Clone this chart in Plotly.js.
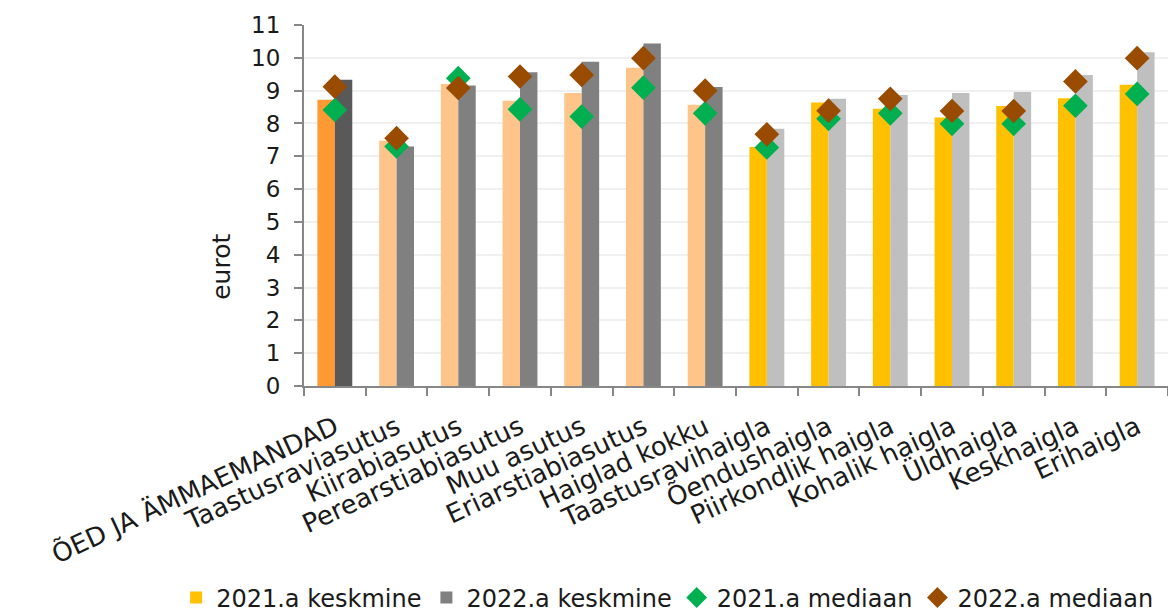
<!DOCTYPE html>
<html>
<head>
<meta charset="utf-8">
<script src="https://cdn.plot.ly/plotly-3.0.1.min.js"></script>
<style>html,body{margin:0;padding:0;background:#fff;}#chart{width:1168px;height:616px;}</style>
</head>
<body>
<div id="chart"></div>
<script>
const categories = ["ÕED JA ÄMMAEMANDAD","Taastusraviasutus","Kiirabiasutus","Perearstiabiasutus","Muu asutus","Eriarstiabiasutus","Haiglad kokku","Taastusravihaigla","Õendushaigla","Piirkondlik haigla","Kohalik haigla","Üldhaigla","Keskhaigla","Erihaigla"];
const mean2021 = [8.72, 7.47, 9.20, 8.69, 8.93, 9.70, 8.57, 7.28, 8.64, 8.45, 8.18, 8.53, 8.77, 9.18];
const mean2022 = [9.33, 7.30, 9.16, 9.56, 9.88, 10.44, 9.11, 7.84, 8.75, 8.87, 8.93, 8.96, 9.48, 10.17];
const median2021 = [8.41, 7.30, 9.38, 8.43, 8.21, 9.09, 8.31, 7.27, 8.14, 8.31, 7.99, 7.99, 8.54, 8.90];
const median2022 = [9.12, 7.55, 9.08, 9.43, 9.48, 9.99, 9.00, 7.67, 8.39, 8.75, 8.38, 8.38, 9.28, 9.99];
const seriesNames = ["2021.a keskmine","2022.a keskmine","2021.a mediaan","2022.a mediaan"];

// styles
const FONT = "DejaVu Sans";
const TXT = "#1a1a1a";
const AX = "#878787";
const colors2021 = categories.map((c, i) => i === 0 ? "#FF9933" : (i <= 6 ? "#FFC48A" : "#FFC000"));
const colors2022 = categories.map((c, i) => i === 0 ? "#595959" : (i <= 6 ? "#808080" : "#BFBFBF"));

const traces = [
  {type:"bar", name:seriesNames[0], x:[categories[0]], y:[null], offsetgroup:"a", marker:{color:"#FFC000"}, hoverinfo:"skip"},
  {type:"bar", name:seriesNames[1], x:[categories[0]], y:[null], offsetgroup:"b", marker:{color:"#808080"}, hoverinfo:"skip"},
  {type:"bar", name:seriesNames[0], x:categories, y:mean2021, offsetgroup:"a", marker:{color:colors2021}, showlegend:false},
  {type:"bar", name:seriesNames[1], x:categories, y:mean2022, offsetgroup:"b", marker:{color:colors2022}, showlegend:false},
  {type:"scatter", mode:"markers", name:seriesNames[2], x:categories, y:median2021, marker:{symbol:"diamond", size:19, color:"#00B050"}},
  {type:"scatter", mode:"markers", name:seriesNames[3], x:categories, y:median2022, marker:{symbol:"diamond", size:19, color:"#994C00"}}
];

const layout = {
  width:1168, height:616,
  margin:{l:304, r:0, t:25, b:230, autoexpand:false},
  paper_bgcolor:"#fff", plot_bgcolor:"#fff",
  font:{family:FONT, size:23, color:TXT},
  barmode:"group", bargap:0.435, bargroupgap:0,
  showlegend:true,
  legend:{orientation:"h", xref:"paper", yref:"paper", x:-0.148, xanchor:"left", y:-0.587, yanchor:"middle", font:{family:FONT, size:24, color:TXT}, itemwidth:30, tracegroupgap:0},
  xaxis:{type:"category", range:[-0.5, 13.5], showline:true, linecolor:AX, linewidth:2, ticks:"outside", tickson:"boundaries", ticklen:8, tickwidth:2, tickcolor:AX, tickangle:-25, ticklabelstandoff:14, tickfont:{family:FONT, size:26, color:TXT}, showgrid:false, automargin:false, fixedrange:true},
  yaxis:{range:[0,11], dtick:1, showline:true, linecolor:AX, linewidth:2, ticks:"outside", ticklen:8, tickwidth:2, tickcolor:AX, ticklabelstandoff:9, tickfont:{family:FONT, size:23, color:TXT}, showgrid:true, gridcolor:"#F0F0F0", gridwidth:2, zeroline:false, automargin:false, fixedrange:true},
  annotations:[{text:"eurot", xref:"paper", yref:"paper", x:-0.095, y:0.33, xanchor:"center", yanchor:"middle", textangle:-90, showarrow:false, font:{family:FONT, size:25, color:TXT}}]
};

Plotly.newPlot("chart", traces, layout, {displayModeBar:false, staticPlot:true});
</script>
</body>
</html>
